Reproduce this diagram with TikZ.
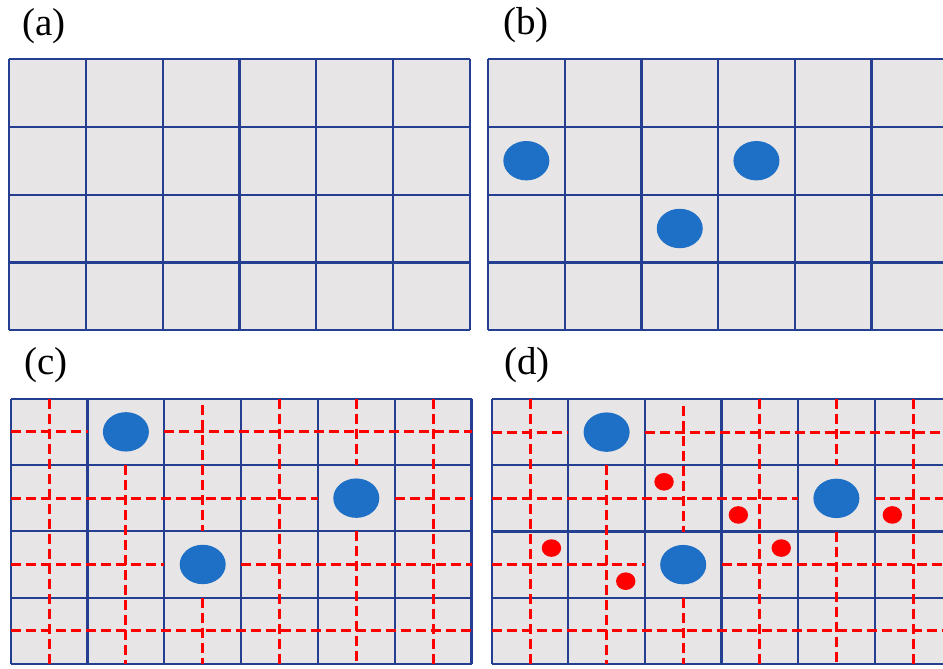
\documentclass[tikz,border=0pt]{standalone}
\usepackage{fontspec}
\setmainfont{Liberation Serif}
\definecolor{cellgray}{RGB}{231,229,230}
\definecolor{gridblue}{RGB}{36,62,145}
\definecolor{dotblue}{RGB}{29,112,198}
\definecolor{dotred}{RGB}{255,0,0}
\tikzset{
  panellabel/.style={inner sep=0pt, font=\fontsize{39}{41}\selectfont},
  gridline/.style={draw=gridblue, line width=2.2pt},
  redline/.style={draw=dotred, line width=3pt, dash pattern=on 10pt off 5pt},
  bigdot/.style={fill=dotblue},
  smalldot/.style={fill=dotred},
}
\newcommand{\cellgrid}{%
  \fill[cellgray] (0,0) rectangle (6,4);
  \foreach \i in {0,...,6} \draw[gridline] (\i,0) -- (\i,4);
  \foreach \j in {0,...,4} \draw[gridline] (0,\j) -- (6,\j);
}
\newcommand{\redgrid}{%
  \draw[redline] (0,0.5) -- (1,0.5) (2,0.5) -- (6,0.5);
  \draw[redline] (0,1.5) -- (4,1.5) (5,1.5) -- (6,1.5);
  \draw[redline] (0,2.5) -- (2,2.5) (3,2.5) -- (6,2.5);
  \draw[redline] (0,3.5) -- (6,3.5);
  \draw[redline] (0.5,0) -- (0.5,4);
  \draw[redline] (1.5,1) -- (1.5,4);
  \draw[redline] (2.5,0.1) -- (2.5,2) (2.5,3) -- (2.5,4);
  \draw[redline] (3.5,0) -- (3.5,4);
  \draw[redline] (4.5,0) -- (4.5,1) (4.5,2) -- (4.5,4);
  \draw[redline] (5.5,0) -- (5.5,4);
}
\newcommand{\bluedot}[1]{\fill[bigdot] #1 ellipse [x radius=23pt, y radius=19.7pt];}
\newcommand{\reddot}[1]{\fill[smalldot] #1 ellipse [x radius=9.7pt, y radius=8.8pt];}
\begin{document}
\begin{tikzpicture}[x=1pt, y=-1pt]
\clip (0,0) rectangle (943,669);
\fill[white] (0,0) rectangle (943,669);
% labels
\node[panellabel] (la) at (44,26) {(a)};
\node[panellabel] (lb) at (526,25) {(b)};
\node[panellabel] (lc) at (46,365) {(c)};
\node[panellabel] (ld) at (527,365) {(d)};
% (a)
\begin{scope}[shift={(9pt,-59pt)}, x=76.8pt, y=-67.8pt]
  \cellgrid
\end{scope}
% (b)
\begin{scope}[shift={(488pt,-59pt)}, x=76.7pt, y=-67.8pt]
  \cellgrid
  \bluedot{(0.5,1.5)}
  \bluedot{(3.5,1.5)}
  \bluedot{(2.5,2.5)}
\end{scope}
% (c)
\begin{scope}[shift={(10.7pt,-398.7pt)}, x=76.8pt, y=-66.3pt]
  \cellgrid
  \redgrid
  \bluedot{(1.5,0.5)}
  \bluedot{(4.5,1.5)}
  \bluedot{(2.5,2.5)}
\end{scope}
% (d)
\begin{scope}[shift={(491.7pt,-399pt)}, x=76.6pt, y=-66.25pt]
  \cellgrid
  \redgrid
  \bluedot{(1.5,0.5)}
  \bluedot{(4.5,1.5)}
  \bluedot{(2.5,2.5)}
  \reddot{(2.25,1.25)}
  \reddot{(3.22,1.75)}
  \reddot{(5.23,1.75)}
  \reddot{(0.78,2.25)}
  \reddot{(3.78,2.25)}
  \reddot{(1.75,2.75)}
\end{scope}
\end{tikzpicture}
\end{document}
